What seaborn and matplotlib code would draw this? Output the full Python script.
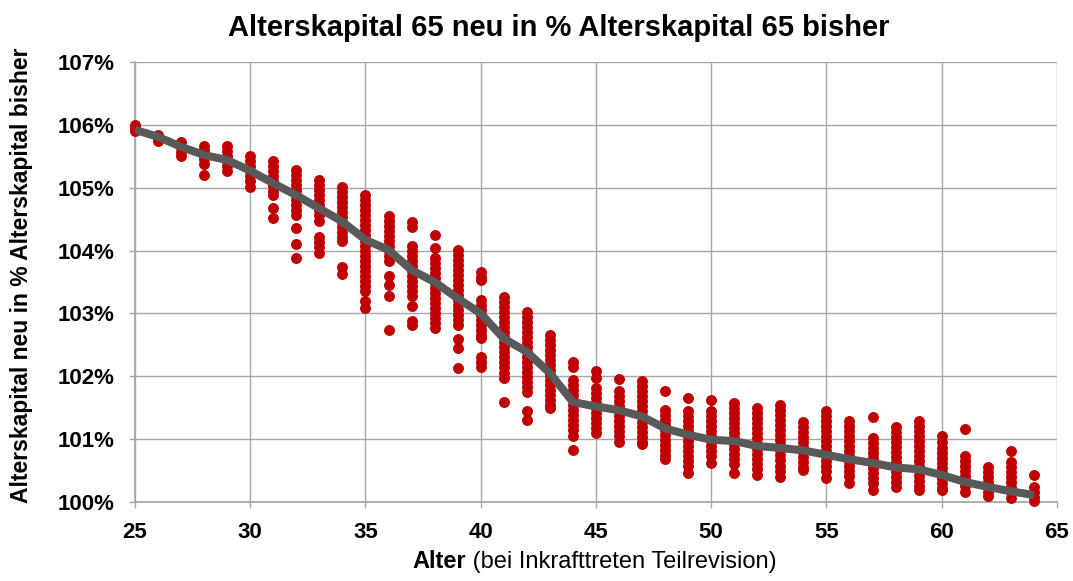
import matplotlib.pyplot as plt
import seaborn as sns
import pandas as pd
from matplotlib.ticker import FuncFormatter

plt.switch_backend('Agg')

# Alter bei Inkrafttreten und Durchschnitt (graue Linie)
alter = list(range(25, 65))
mittelwert = [105.92, 105.81, 105.65, 105.52, 105.44, 105.27, 105.07, 104.88, 104.67, 104.46,
              104.17, 104.01, 103.69, 103.50, 103.24, 103.00, 102.60, 102.39, 102.05, 101.59,
              101.52, 101.46, 101.36, 101.17, 101.07, 100.99, 100.97, 100.89, 100.86, 100.82,
              100.75, 100.68, 100.62, 100.55, 100.52, 100.43, 100.32, 100.24, 100.17, 100.11]

# Einzelwerte je Alter (rote Punkte), in %
werte = [
    [106.00, 105.95, 105.90],
    [105.84, 105.79, 105.75],
    [105.73, 105.65, 105.57, 105.50],
    [105.67, 105.60, 105.52, 105.45, 105.38, 105.20],
    [105.67, 105.59, 105.51, 105.43, 105.35, 105.27],
    [105.50, 105.42, 105.34, 105.26, 105.18, 105.10, 105.01],
    [105.43, 105.35, 105.27, 105.19, 105.11, 105.03, 104.95, 104.88, 104.68, 104.52],
    [105.28, 105.20, 105.12, 105.04, 104.96, 104.88, 104.80, 104.72, 104.64, 104.56, 104.36, 104.10, 103.88],
    [105.12, 105.04, 104.96, 104.88, 104.80, 104.72, 104.64, 104.56, 104.47, 104.22, 104.14, 104.05, 103.96],
    [105.01, 104.93, 104.85, 104.77, 104.69, 104.61, 104.53, 104.45, 104.37, 104.29, 104.21, 104.15, 103.74, 103.63],
    [104.88, 104.80, 104.72, 104.64, 104.56, 104.48, 104.40, 104.32, 104.24, 104.16, 104.08, 104.00, 103.92,
     103.84, 103.76, 103.68, 103.60, 103.52, 103.44, 103.36, 103.20, 103.09],
    [104.55, 104.47, 104.39, 104.31, 104.23, 104.15, 104.07, 103.99, 103.91, 103.83, 103.60, 103.45, 103.28, 102.74],
    [104.45, 104.38, 104.07, 103.99, 103.91, 103.83, 103.75, 103.67, 103.59, 103.51, 103.43, 103.35, 103.28,
     103.12, 102.88, 102.82],
    [104.25, 104.04, 103.88, 103.80, 103.72, 103.64, 103.56, 103.48, 103.40, 103.32, 103.24, 103.16, 103.08,
     103.00, 102.92, 102.84, 102.77],
    [104.01, 103.93, 103.85, 103.77, 103.69, 103.61, 103.53, 103.45, 103.37, 103.29, 103.21, 103.13, 103.05,
     102.97, 102.89, 102.81, 102.60, 102.45, 102.13],
    [103.66, 103.58, 103.53, 103.21, 103.13, 103.05, 102.97, 102.89, 102.81, 102.73, 102.65, 102.61, 102.31,
     102.22, 102.15],
    [103.26, 103.18, 103.10, 103.02, 102.94, 102.86, 102.78, 102.70, 102.62, 102.54, 102.46, 102.38, 102.30,
     102.22, 102.14, 102.06, 101.97, 101.59],
    [103.03, 102.95, 102.87, 102.79, 102.71, 102.63, 102.55, 102.47, 102.39, 102.31, 102.23, 102.15, 102.07,
     101.99, 101.91, 101.83, 101.75, 101.44, 101.30],
    [102.66, 102.58, 102.50, 102.42, 102.34, 102.26, 102.18, 102.10, 102.02, 101.94, 101.86, 101.78, 101.70,
     101.62, 101.54, 101.50],
    [102.23, 102.15, 101.94, 101.86, 101.78, 101.70, 101.62, 101.54, 101.46, 101.38, 101.30, 101.22, 101.14,
     101.05, 100.82],
    [102.08, 101.98, 101.81, 101.73, 101.65, 101.57, 101.49, 101.41, 101.33, 101.25, 101.17, 101.10],
    [101.95, 101.77, 101.69, 101.61, 101.53, 101.45, 101.37, 101.29, 101.21, 101.13, 101.05, 100.96],
    [101.92, 101.84, 101.76, 101.68, 101.60, 101.52, 101.44, 101.36, 101.28, 101.20, 101.12, 101.04, 100.96, 100.92],
    [101.77, 101.46, 101.38, 101.30, 101.22, 101.14, 101.06, 100.98, 100.90, 100.82, 100.74, 100.68],
    [101.66, 101.45, 101.37, 101.29, 101.21, 101.13, 101.05, 100.97, 100.89, 100.81, 100.73, 100.65, 100.57, 100.46],
    [101.62, 101.45, 101.37, 101.29, 101.21, 101.13, 101.05, 100.97, 100.89, 100.81, 100.73, 100.62],
    [101.57, 101.49, 101.41, 101.33, 101.25, 101.17, 101.09, 101.01, 100.93, 100.85, 100.77, 100.69, 100.60, 100.46],
    [101.49, 101.41, 101.33, 101.25, 101.17, 101.09, 101.01, 100.93, 100.85, 100.77, 100.69, 100.61, 100.53, 100.43],
    [101.54, 101.46, 101.38, 101.30, 101.22, 101.14, 101.06, 100.98, 100.90, 100.82, 100.74, 100.66, 100.58,
     100.50, 100.40],
    [101.27, 101.19, 101.11, 101.03, 100.95, 100.87, 100.79, 100.71, 100.63, 100.55, 100.51],
    [101.45, 101.37, 101.29, 101.21, 101.13, 101.05, 100.97, 100.89, 100.81, 100.73, 100.65, 100.57, 100.49, 100.38],
    [101.29, 101.21, 101.13, 101.05, 100.97, 100.89, 100.81, 100.73, 100.65, 100.57, 100.49, 100.41, 100.30],
    [101.35, 101.02, 100.94, 100.86, 100.78, 100.70, 100.62, 100.54, 100.46, 100.38, 100.30, 100.19],
    [101.19, 101.11, 101.03, 100.95, 100.87, 100.79, 100.71, 100.63, 100.55, 100.47, 100.39, 100.31, 100.24],
    [101.29, 101.21, 101.13, 101.05, 100.97, 100.89, 100.81, 100.73, 100.65, 100.57, 100.49, 100.41, 100.33,
     100.25, 100.19],
    [101.05, 100.96, 100.86, 100.78, 100.70, 100.62, 100.54, 100.46, 100.38, 100.30, 100.22, 100.19],
    [101.16, 100.73, 100.65, 100.57, 100.49, 100.41, 100.33, 100.25, 100.16],
    [100.56, 100.48, 100.40, 100.32, 100.24, 100.16, 100.10],
    [100.81, 100.64, 100.56, 100.48, 100.40, 100.32, 100.24, 100.16, 100.06],
    [100.43, 100.24, 100.16, 100.08, 100.02],
]

sns.set_theme(style="whitegrid", rc={
    "grid.color": "#A6A6A6",
    "grid.linewidth": 1.0,
    "axes.edgecolor": "#A6A6A6",
    "text.color": "black",
    "axes.labelcolor": "black",
    "xtick.color": "#A6A6A6",
    "ytick.color": "#A6A6A6",
    "xtick.labelcolor": "black",
    "ytick.labelcolor": "black",
})
plt.rcParams['font.family'] = ['Liberation Sans', 'DejaVu Sans']

punkte = pd.DataFrame(
    [(a, w) for a, ws in zip(alter, werte) for w in ws],
    columns=['Alter', 'Wert'],
)

fig = plt.figure(figsize=(10.73, 5.81), dpi=100)
ax = fig.add_axes([0.1258, 0.136, 0.8592, 0.7573])

sns.scatterplot(data=punkte, x='Alter', y='Wert', color='#C00000', s=62,
                linewidth=0, ax=ax, zorder=3, clip_on=False)
sns.lineplot(x=alter, y=mittelwert, color='#595959', linewidth=5.8, ax=ax,
             zorder=4, solid_capstyle='butt')

ax.set_xlim(25, 65)
ax.set_ylim(100, 107)
ax.set_xticks(range(25, 66, 5))
ax.set_yticks(range(100, 108))
ax.yaxis.set_major_formatter(FuncFormatter(lambda v, p: f'{v:.0f}%'))
ax.tick_params(axis='both', length=4.5, width=1.0, direction='out')
ax.tick_params(axis='x', labelsize=16, pad=10)
ax.tick_params(axis='y', labelsize=16, pad=10)
ax.xaxis.set_ticks_position('bottom')
ax.yaxis.set_ticks_position('left')
for lab in ax.get_xticklabels() + ax.get_yticklabels():
    lab.set_fontweight('bold')

for side in ['top', 'right']:
    ax.spines[side].set_visible(False)

ax.set_xlabel('')
ax.set_ylabel('')
fig.text(22 / 1073, 1 - 275 / 581, 'Alterskapital neu in % Alterskapital bisher',
         rotation=90, fontsize=16.5, fontweight='bold', ha='center', va='center')

fig.text(559 / 1073, 1 - 36 / 581, 'Alterskapital 65 neu in % Alterskapital 65 bisher',
         fontsize=21, fontweight='bold', ha='center', va='baseline')

# x-Achsentitel: "Alter" fett, Rest normal, zusammen zentriert
t1 = fig.text(0, 1 - 568 / 581, 'Alter', fontsize=17, fontweight='bold',
              ha='left', va='baseline')
t2 = fig.text(0, 1 - 568 / 581, ' (bei Inkrafttreten Teilrevision)', fontsize=17,
              ha='left', va='baseline')
fig.canvas.draw()
r = fig.canvas.get_renderer()
w1 = t1.get_window_extent(r).width
w2 = t2.get_window_extent(r).width
x0 = 595 - (w1 + w2) / 2
t1.set_x(x0 / 1073)
t2.set_x((x0 + w1) / 1073)

plt.savefig('out.png', dpi=100)
plt.close()
